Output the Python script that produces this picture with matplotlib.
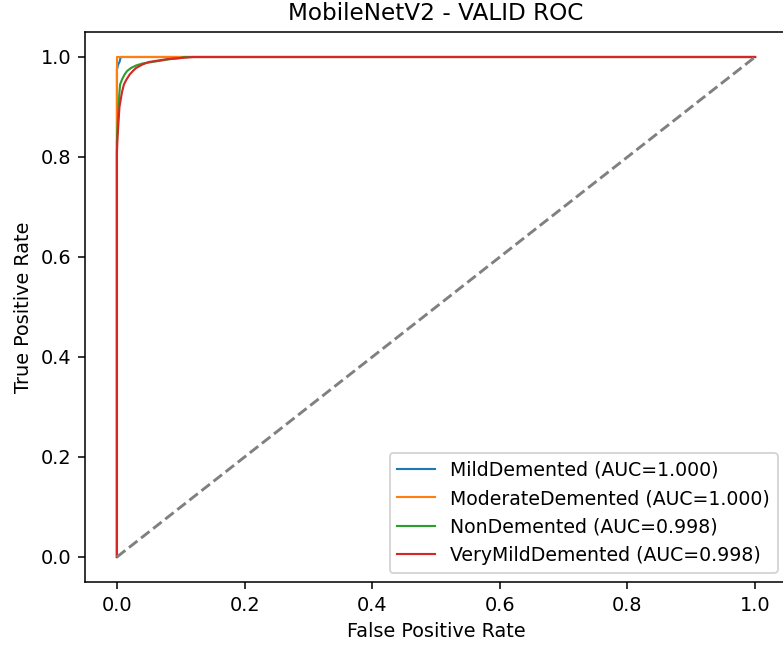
import matplotlib
matplotlib.use("Agg")
import matplotlib.pyplot as plt

classes = ["MildDemented", "ModerateDemented", "NonDemented", "VeryMildDemented"]
aucs = [1.000, 1.000, 0.998, 0.998]

fpr_mild = [0.0, 0.0, 0.002, 0.004, 0.005, 0.006, 1.0]
tpr_mild = [0.0, 0.975, 0.985, 0.99, 0.995, 1.0, 1.0]

fpr_mod = [0.0, 0.0, 1.0]
tpr_mod = [0.0, 1.0, 1.0]

fpr_non = [0.0, 0.0, 0.001, 0.002, 0.003, 0.004, 0.005, 0.008, 0.012, 0.016, 0.022, 0.03, 0.04, 0.055, 0.07, 0.085, 0.1, 0.105, 1.0]
tpr_non = [0.0, 0.83, 0.86, 0.885, 0.91, 0.93, 0.945, 0.955, 0.965, 0.972, 0.978, 0.983, 0.987, 0.99, 0.993, 0.996, 0.998, 1.0, 1.0]

fpr_vm = [0.0, 0.0, 0.001, 0.002, 0.003, 0.004, 0.006, 0.008, 0.011, 0.015, 0.02, 0.025, 0.03, 0.04, 0.05, 0.065, 0.08, 0.1, 0.12, 1.0]
tpr_vm = [0.0, 0.81, 0.84, 0.86, 0.88, 0.9, 0.915, 0.93, 0.945, 0.955, 0.965, 0.972, 0.978, 0.985, 0.99, 0.993, 0.996, 0.998, 1.0, 1.0]

curves = [(fpr_mild, tpr_mild), (fpr_mod, tpr_mod), (fpr_non, tpr_non), (fpr_vm, tpr_vm)]
colors = ["#1f77b4", "#ff7f0e", "#2ca02c", "#d62728"]

DPI = 139
fig = plt.figure(figsize=(783 / DPI, 648 / DPI), dpi=DPI)
ax = fig.add_axes([85 / 783, 66 / 648, 702 / 783, 550 / 648])
for (f, t), name, auc, c in zip(curves, classes, aucs, colors):
    ax.plot(f, t, color=c, lw=1.1, label=f"{name} (AUC={auc:.3f})")
ax.plot([0, 1], [0, 1], linestyle="--", color="gray", lw=1.5)
ax.set_xlabel("False Positive Rate")
ax.set_ylabel("True Positive Rate")
ax.set_title("MobileNetV2 - VALID ROC")
ax.legend(loc="lower right", fontsize=9.8)
fig.savefig("out.png", dpi=DPI)
